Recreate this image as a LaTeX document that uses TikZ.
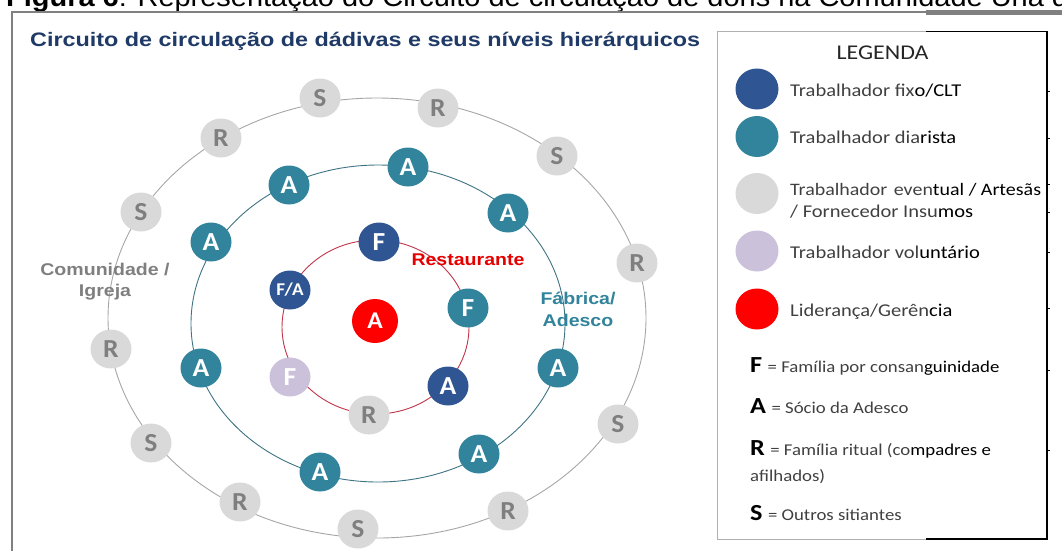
\documentclass[tikz,border=0pt]{standalone}
\usepackage{fontspec}
\usepackage{graphicx}
\usetikzlibrary{shapes.geometric}
\setmainfont{Carlito}
\newfontfamily\arialS{Liberation Sans}[FakeStretch=1.15]
\newfontfamily\arialN{Liberation Sans}
\newfontfamily\calS{Carlito}[FakeStretch=1.14]
\newfontfamily\calN{Carlito}[FakeStretch=1.06]
\definecolor{cblue}{HTML}{2F5592}
\definecolor{cteal}{HTML}{31849B}
\definecolor{cgray}{HTML}{D9D9D9}
\definecolor{cgtxt}{HTML}{7F7F7F}
\definecolor{clav}{HTML}{CCC1DA}
\definecolor{cred}{HTML}{FF0000}
\definecolor{cring1}{HTML}{C0354A}
\definecolor{cring2}{HTML}{3E7383}
\definecolor{cring3}{HTML}{A6A6A6}
\definecolor{ctitle}{HTML}{1F3A66}
\definecolor{cleg}{HTML}{404040}
\definecolor{cframe}{HTML}{808080}
\definecolor{cboxg}{HTML}{B0B0B0}
\newcommand\leggray[1]{\textcolor{cleg}{#1}}
\tikzset{
 nd/.style={ellipse, inner sep=0pt, minimum width=41pt, minimum height=39pt, text=white, font=\calN\fontsize{26}{26}\selectfont\bfseries},
 gr/.style={nd, fill=cgray, text=cgtxt},
 tl/.style={nd, fill=cteal},
 db/.style={nd, fill=cblue},
 lv/.style={nd, fill=clav},
 rd/.style={nd, fill=cred, minimum width=46pt, minimum height=44pt, font=\calN\fontsize{24}{24}\selectfont\bfseries},
 ring/.style={line width=0.9pt},
 lc/.style={ellipse, inner sep=0pt, minimum width=43pt, minimum height=41pt},
 lt/.style={anchor=base west, inner sep=0pt, font=\calS\fontsize{18}{22}\selectfont},
 lt2/.style={anchor=base west, inner sep=0pt, font=\calS\fontsize{16.5}{20}\selectfont, text=cleg},
 keyl/.style={anchor=base west, inner sep=0pt, font=\calS\fontsize{23}{23}\selectfont\bfseries},
 lab/.style={anchor=base, inner sep=0pt, font=\arialS\fontsize{17}{21}\selectfont\bfseries},
}
\begin{document}
\begin{tikzpicture}[x=1pt,y=-1pt]
\useasboundingbox (0,0) rectangle (1062,550);
\clip (0,0) rectangle (1062,550);
% caption (cut at top)
\node[anchor=base west, inner sep=0pt] (cap) at (6,6) {\resizebox{1062pt}{\height}{\arialN\fontsize{27}{27}\selectfont\textbf{Figura 6}: Representação do Circuito de circulação de dons na Comunidade Una d}};
% frame
\draw[cframe, line width=2.5pt] (12,11) -- (12,552);
\draw[cframe, line width=2pt] (11,12) -- (926,12);
\draw[cframe, line width=5pt] (926,12) -- (1064,12);
% title
\node[anchor=base west, inner sep=0pt, text=ctitle] (title) at (30,46) {\resizebox{670pt}{\height}{\arialN\fontsize{19.5}{20}\selectfont\bfseries Circuito de circulação de dádivas e seus níveis hierárquicos}};
% rings
\draw[ring, cring3] (377,318) ellipse [x radius=269pt, y radius=220pt];
\draw[ring, cring2] (378,323.5) ellipse [x radius=187pt, y radius=158.5pt];
\draw[ring, cring1] (375.5,327) ellipse [x radius=93.5pt, y radius=87pt];
% labels
\node[lab, text=cgtxt] (com1) at (105,275) {Comunidade /};
\node[lab, text=cgtxt] (com2) at (105,296) {Igreja};
\node[lab, text=cteal] (fab1) at (578,304) {Fábrica/};
\node[lab, text=cteal] (fab2) at (578,326) {Adesco};
\node[lab, text=cred!90!black] (rest) at (468,265) {Restaurante};
% outer ring
\node[gr] (s1) at (320,98) {S};
\node[gr] (r1) at (438,108) {R};
\node[gr] (s2) at (557,156) {S};
\node[gr] (r2) at (637,263) {R};
\node[gr] (s3) at (618,424) {S};
\node[gr] (r3) at (508,511) {R};
\node[gr] (s4) at (358,529) {S};
\node[gr] (r4) at (240,502) {R};
\node[gr] (s5) at (151,443) {S};
\node[gr] (r5) at (111,349) {R};
\node[gr] (s6) at (141,212) {S};
\node[gr] (r6) at (221,138) {R};
% middle ring
\node[tl] (a1) at (289,185) {A};
\node[tl] (a2) at (408,167) {A};
\node[tl] (a3) at (508,213) {A};
\node[tl] (a4) at (211,242) {A};
\node[tl] (a5) at (201,368) {A};
\node[tl] (a6) at (558,368) {A};
\node[tl] (a7) at (320,472) {A};
\node[tl] (a8) at (479,454) {A};
% inner ring
\node[db] (f1) at (379,242) {F};
\node[db, font=\calN\fontsize{18}{18}\selectfont\bfseries] (fa) at (290,290) {F/A};
\node[tl] (f2) at (468,308) {F};
\node[db] (a9) at (448,386) {A};
\node[gr] (r7) at (369,415) {R};
\node[lv] (f3) at (290,377) {F};
\node[rd] (ac) at (375,321) {A};
% legend box
\draw[cboxg, line width=0.8pt] (926,31.5) -- (717.5,31.5) -- (717.5,539) -- (926,539);
\draw[black, line width=1.6pt] (926,31.5) -- (1047,31.5);
\draw[black, line width=1.2pt] (1047,31) -- (1047,539);
\draw[black, line width=2.2pt] (926,539) -- (1048,539);
\foreach \yy in {91,138,184,212,252,308,370,450} \draw[black, line width=1pt] (1047,\yy) -- (1050,\yy);
\node[anchor=base, inner sep=0pt, font=\calS\fontsize{21}{21}\selectfont, text=black!85] (legt) at (882.5,59) {LEGENDA};
\node[lc, fill=cblue] (l1) at (757,89) {};
\node[lt] (t1) at (790,96) {\leggray{Trabalhador fix}o/CLT};
\node[lc, fill=cteal] (l2) at (757,136.5) {};
\node[lt] (t2) at (790,143) {\leggray{Trabalhador dia}rista};
\node[lc, fill=cgray] (l3) at (757,193.5) {};
\node[lt, font=\calS\fontsize{17.5}{22}\selectfont] (t3a) at (790,195) {\leggray{Trabalhador\hspace{2pt} even}tual / Artesãs};
\node[lt] (t3b) at (790,217) {\leggray{/ Fornecedor Insu}mos};
\node[lc, fill=clav] (l4) at (757,251) {};
\node[lt] (t4) at (790,258) {\leggray{Trabalhador vol}untário};
\node[lc, fill=cred] (l5) at (757,309) {};
\node[lt] (t5) at (790,316) {\leggray{Liderança/Gerên}cia};
\node[keyl] (kF) at (750,372) {F};
\node[lt2] (kFt) at ([xshift=5pt]kF.base east) {= Família por consan\textcolor{black}{guinidade}};
\node[keyl] (kA) at (750,413) {A};
\node[lt2] (kAt) at ([xshift=5pt]kA.base east) {= Sócio da Adesco};
\node[keyl] (kR) at (750,455) {R};
\node[lt2] (kRt) at ([xshift=5pt]kR.base east) {= Família ritual (co\textcolor{black}{mpadres e}};
\node[lt2] (kRt2) at (750,481) {afilhados)};
\node[keyl] (kS) at (750,520) {S};
\node[lt2] (kSt) at ([xshift=5pt]kS.base east) {= Outros sitiantes};
\end{tikzpicture}
\end{document}
